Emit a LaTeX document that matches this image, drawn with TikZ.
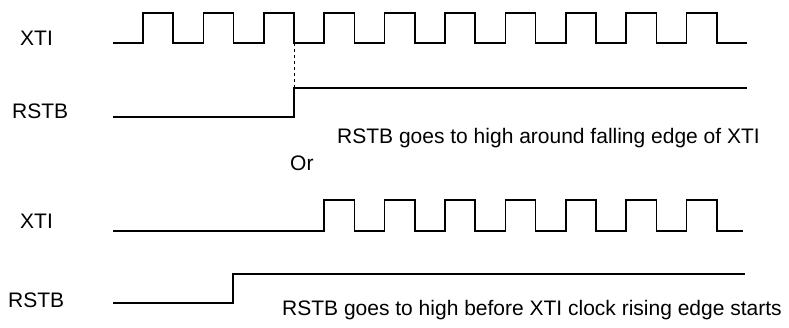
\documentclass[tikz,border=0pt]{standalone}
\usepackage{fontspec}
\setmainfont{Liberation Sans}
\begin{document}
\begin{tikzpicture}[x=1pt, y=-1pt, wave/.style={line width=1.5pt}, lbl/.style={anchor=base west, inner sep=0pt, font=\fontsize{21}{25}\selectfont}]
\useasboundingbox (0,0) rectangle (789,327);
% Labels
\node[lbl] (xtiA) at (20,45) {XTI};
\node[lbl] (rstbA) at (12,118) {RSTB};
\node[lbl] (xtiB) at (20,228) {XTI};
\node[lbl] (rstbB) at (8,307) {RSTB};
% First case: XTI clock
\draw[wave] (113,43) \foreach \k in {0,...,9} { -- ({143+60.4*\k},43) -- ++(0,-30) -- ++(30.2,0) -- ++(0,30) } -- (747,43);
% First case: RSTB
\draw[wave] (113,117) -- (294,117) -- (294,88) -- (747,88);
\coordinate (fallA) at (294,43);
\coordinate (riseA) at (294,88);
\draw[dashed, line width=0.6pt] (fallA) -- (riseA);
\node[lbl] (noteA) at (337,143) {RSTB goes to high around falling edge of XTI};
\node[lbl] (orsep) at (290,170) {Or};
% Second case: XTI clock
\draw[wave] (113,231) \foreach \k in {3,...,9} { -- ({143+60.4*\k},231) -- ++(0,-31) -- ++(30.2,0) -- ++(0,31) } -- (743,231);
% Second case: RSTB
\draw[wave] (113,303) -- (233,303) -- (233,274) -- (745,274);
\node[lbl] (noteB) at (282,315) {RSTB goes to high before XTI clock rising edge starts};
\end{tikzpicture}
\end{document}
